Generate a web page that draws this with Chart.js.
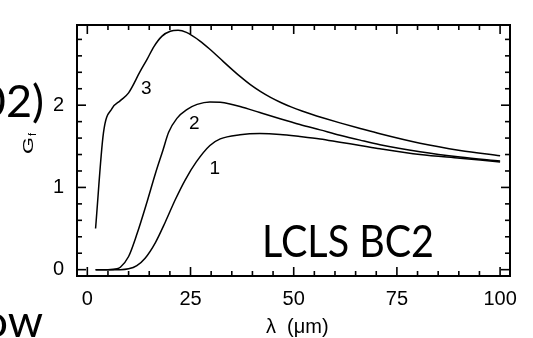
<!DOCTYPE html>
<html>
<head>
<meta charset="utf-8">
<script src="https://cdn.jsdelivr.net/npm/chart.js@4/dist/chart.umd.min.js"></script>
<style>
  html, body { margin: 0; padding: 0; background: #fff; }
  #wrap { position: relative; width: 533px; height: 338px; overflow: hidden; }
  canvas { display: block; }
</style>
</head>
<body>
<div id="wrap"><canvas id="c" width="533" height="338"></canvas></div>
<script>
// Form factor G_f versus wavelength λ (μm) for three cases, LCLS BC2
const lambda1 = [2, 8, 10, 12, 14, 16.5, 18.9, 21.3, 23.7, 26.4, 29.7, 32.2, 37, 41.8, 46.7, 51.5, 56.4, 61.2, 66.1, 70.9, 80.6, 90.3, 100];
const gf1     = [0, 0, 0.01, 0.05, 0.14, 0.33, 0.58, 0.85, 1.09, 1.31, 1.51, 1.59, 1.64, 1.655, 1.645, 1.62, 1.59, 1.55, 1.51, 1.47, 1.40, 1.355, 1.31];

const lambda2 = [2, 5, 7.2, 8, 10, 12, 14.5, 16.5, 18.3, 19.7, 21.7, 24.2, 26.6, 29.7, 32.2, 37, 41.8, 46.7, 51.5, 56.4, 61.2, 66.1, 70.9, 80.6, 90.3, 100];
const gf2     = [0, 0, 0.01, 0.03, 0.16, 0.43, 0.83, 1.17, 1.45, 1.67, 1.84, 1.95, 2.01, 2.04, 2.035, 1.985, 1.91, 1.835, 1.765, 1.70, 1.635, 1.575, 1.52, 1.435, 1.37, 1.32];

const lambda3 = [2, 3.9, 6, 8, 10, 12.8, 14.5, 16.1, 18.1, 20.1, 22, 24, 27.3, 29.7, 32.1, 34.5, 37, 39.5, 42, 44.5, 47, 49.5, 52, 54.5, 57, 61.2, 66.1, 70.9, 80.6, 90.3, 100];
const gf3     = [0.5, 1.66, 1.96, 2.055, 2.15, 2.41, 2.56, 2.71, 2.84, 2.90, 2.91, 2.885, 2.78, 2.68, 2.57, 2.46, 2.35, 2.25, 2.165, 2.092, 2.03, 1.976, 1.929, 1.886, 1.847, 1.785, 1.717, 1.652, 1.537, 1.45, 1.385];

// curve labels and where they sit (data coordinates)
const curveNames  = ['1', '2', '3'];
const curveLabelX = [30.9, 25.9, 14.3];
const curveLabelY = [1.225, 1.77, 2.2];

const xTickLabels = [0, 25, 50, 75, 100];
const yTickLabels = [0, 1, 2];

const FONT = '"Liberation Sans", Arial, Helvetica, sans-serif';
const SLIDE_FONT = 'Lato, "Open Sans", sans-serif';

const pts = (xs, ys) => xs.map((x, i) => ({ x: x, y: ys[i] }));

const lineStyle = {
  borderColor: '#000',
  borderWidth: 1.5,
  pointRadius: 0,
  fill: false,
  cubicInterpolationMode: 'monotone'
};

// text drawn at a fixed width
function fitText(ctx, text, x, y, width) {
  const w = ctx.measureText(text).width;
  ctx.save();
  ctx.translate(x, y);
  ctx.scale(width / w, 1);
  ctx.fillText(text, 0, 0);
  ctx.restore();
}

// inward tick marks on all four sides, the box frame, and the text around the plot
const framePlugin = {
  id: 'frame',
  afterDraw(chart) {
    const ctx = chart.ctx, a = chart.chartArea;
    const xs = chart.scales.x, ys = chart.scales.y;
    ctx.save();
    ctx.strokeStyle = '#000';
    ctx.lineWidth = 1.6;
    const seg = (x1, y1, x2, y2) => { ctx.beginPath(); ctx.moveTo(x1, y1); ctx.lineTo(x2, y2); ctx.stroke(); };
    for (let v = 0; v <= 100; v += 5) {
      const p = xs.getPixelForValue(v);
      const len = xTickLabels.includes(v) ? 9 : 5;
      seg(p, a.bottom, p, a.bottom - len);
      seg(p, a.top, p, a.top + len);
    }
    for (let k = 0; k <= 14; k++) {
      const v = k * 0.2;
      const p = ys.getPixelForValue(v);
      const len = (k % 5 === 0) ? 9 : 5;
      seg(a.left, p, a.left + len, p);
      seg(a.right, p, a.right - len, p);
    }
    ctx.lineWidth = 2;
    ctx.strokeRect(a.left, a.top, a.right - a.left, a.bottom - a.top);

    // curve numbers
    ctx.fillStyle = '#000';
    ctx.font = '19px ' + FONT;
    ctx.textAlign = 'center';
    ctx.textBaseline = 'middle';
    curveNames.forEach((n, i) => {
      ctx.fillText(n, xs.getPixelForValue(curveLabelX[i]), ys.getPixelForValue(curveLabelY[i]));
    });

    // x axis title
    ctx.textBaseline = 'alphabetic';
    ctx.textAlign = 'left';
    ctx.font = '20px ' + FONT;
    ctx.fillText('λ  (μm)', 266, 333);

    // y axis title G_f, rotated
    ctx.save();
    ctx.translate(33, 154);
    ctx.rotate(-Math.PI / 2);
    ctx.font = '14px ' + FONT;
    fitText(ctx, 'G', 0, 0, 17);
    ctx.font = '11px ' + FONT;
    ctx.fillText('f', 18, 3);
    ctx.restore();

    // label inside the plot
    ctx.font = '45px ' + SLIDE_FONT;
    ctx.textAlign = 'left';
    fitText(ctx, 'LCLS BC2', 262, 257, 172);

    // slide text around the figure
    ctx.textAlign = 'right';
    ctx.fillText('02)', 44, 117);
    ctx.fillText('ow', 43, 337);
    ctx.restore();
  }
};

new Chart(document.getElementById('c'), {
  type: 'line',
  data: {
    datasets: [
      Object.assign({ label: '1', data: pts(lambda1, gf1) }, lineStyle),
      Object.assign({ label: '2', data: pts(lambda2, gf2) }, lineStyle),
      Object.assign({ label: '3', data: pts(lambda3, gf3) }, lineStyle)
    ]
  },
  options: {
    responsive: false,
    animation: false,
    devicePixelRatio: 1,
    layout: { padding: { top: 8, right: 23, left: 0, bottom: 0 } },
    plugins: { legend: { display: false }, tooltip: { enabled: false } },
    scales: {
      x: {
        type: 'linear',
        min: -2.5,
        max: 102.4,
        afterBuildTicks: s => { s.ticks = xTickLabels.map(v => ({ value: v })); },
        afterFit: s => { s.height = 62; },
        grid: { display: false, drawTicks: false },
        border: { display: false },
        ticks: { color: '#000', font: { family: FONT, size: 20 }, padding: 11, maxRotation: 0, autoSkip: false }
      },
      y: {
        type: 'linear',
        min: -0.077,
        max: 2.975,
        afterBuildTicks: s => { s.ticks = yTickLabels.map(v => ({ value: v })); },
        afterFit: s => { s.width = 77; },
        grid: { display: false, drawTicks: false },
        border: { display: false },
        ticks: { color: '#000', font: { family: FONT, size: 20 }, padding: 13, autoSkip: false }
      }
    }
  },
  plugins: [framePlugin]
});
</script>
</body>
</html>
